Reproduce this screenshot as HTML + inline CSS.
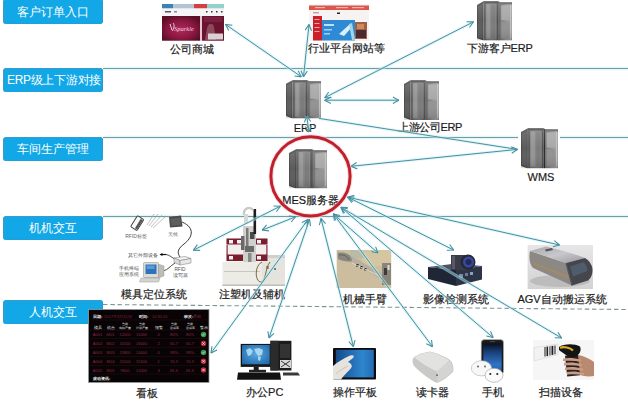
<!DOCTYPE html>
<html><head><meta charset="utf-8">
<style>
html,body{margin:0;padding:0;background:#fff;}
body{width:628px;height:404px;position:relative;overflow:hidden;font-family:"Liberation Sans",sans-serif;}
.box{position:absolute;left:3px;width:100px;height:24px;background:#12a7e6;border-radius:3.5px;box-shadow:inset 1.2px 1px 0 #3a9ccb, inset -1px -0.6px 0 #2a9ad0;color:#fff;font-size:12px;line-height:24px;text-align:center;white-space:nowrap;}
.lb{position:absolute;width:120px;text-align:center;font-size:11px;line-height:12px;color:#1a1a1a;white-space:nowrap;-webkit-text-stroke:0.2px #222;}
svg{position:absolute;left:0;top:0;}
.ic{position:absolute;}
</style></head><body>

<div class="box" style="top:-1px;height:25px;line-height:26px;">客户订单入口</div>
<div class="box" style="top:68px;letter-spacing:-0.3px;text-indent:2px;">ERP级上下游对接</div>
<div class="box" style="top:137px;">车间生产管理</div>
<div class="box" style="top:216px;">机机交互</div>
<div class="box" style="top:300px;">人机交互</div>

<!-- background lines -->
<svg width="628" height="404" style="z-index:1">
  <g stroke="#cfeef2" stroke-width="3.4" opacity="0.5">
   <line x1="103" y1="68.5" x2="628" y2="68.5"/><line x1="103" y1="137.5" x2="628" y2="137.5"/><line x1="103" y1="216.5" x2="628" y2="216.5"/>
  </g>
  <line x1="103" y1="68.5" x2="628" y2="68.5" stroke="#6e9ea4" stroke-width="1.2"/>
  <line x1="103" y1="137.5" x2="628" y2="137.5" stroke="#6e9ea4" stroke-width="1.2"/>
  <line x1="103" y1="216.5" x2="628" y2="216.5" stroke="#6e9ea4" stroke-width="1.2"/>
  <line x1="103" y1="304.5" x2="628" y2="309.5" stroke="#7e9496" stroke-width="1.1" stroke-dasharray="4.5 2.8"/>
</svg>

<svg width="628" height="404" style="z-index:2">
 <defs>
  <linearGradient id="sf" x1="0" x2="1" y1="0" y2="0">
   <stop offset="0" stop-color="#5a5a5a"/><stop offset="0.3" stop-color="#787878"/><stop offset="0.6" stop-color="#7e7e7e"/><stop offset="1" stop-color="#606060"/>
  </linearGradient>
  <linearGradient id="sr" x1="0" x2="1" y1="0" y2="0">
   <stop offset="0" stop-color="#707070"/><stop offset="0.5" stop-color="#949494"/><stop offset="0.9" stop-color="#a6a6a6"/><stop offset="1" stop-color="#888"/>
  </linearGradient>
  <linearGradient id="sv" x1="0" x2="0" y1="0" y2="1">
   <stop offset="0" stop-color="#fff" stop-opacity="0.15"/><stop offset="0.5" stop-color="#fff" stop-opacity="0"/><stop offset="1" stop-color="#000" stop-opacity="0.15"/>
  </linearGradient>
  <symbol id="srv" viewBox="0 0 35 40" preserveAspectRatio="none">
   <polygon points="0,4 6.5,0.3 6.5,40 0,37.5" fill="#4a4a4a"/>
   <polygon points="1,5.5 5.5,3 5.5,38.5 1,36.5" fill="#5c5c5c"/>
   <rect x="6.5" y="0.3" width="15" height="39.7" fill="url(#sf)"/>
   <rect x="6.5" y="0.3" width="15" height="2" fill="#4a4a4a"/>
   <rect x="8.5" y="3" width="11" height="35.5" fill="#858585"/>
   <rect x="9.5" y="3.5" width="3.5" height="34.5" fill="#959595"/>
   <rect x="14.5" y="3.5" width="4" height="34.5" fill="#7a7a7a"/>
   <rect x="7.5" y="2.5" width="1" height="36.5" fill="#5a5a5a"/>
   <rect x="19.8" y="2.5" width="1.2" height="36.5" fill="#505050"/>
   <rect x="21.5" y="0.8" width="1.2" height="39.2" fill="#2a2a2a"/>
   <rect x="22.7" y="1.3" width="12.3" height="38.7" fill="url(#sr)"/>
   <rect x="22.7" y="1.3" width="12.3" height="2" fill="#606060"/>
   <rect x="24.2" y="4.5" width="8.5" height="15" fill="#a8a8a8"/>
   <rect x="24.2" y="21" width="8.5" height="17" fill="#929292"/>
   <rect x="33" y="4" width="1.4" height="34" fill="#c0c0c0"/>
   <rect x="0" y="0" width="35" height="40" fill="url(#sv)"/>
  </symbol>
 </defs>
 <rect x="518" y="126" width="42" height="44" fill="#fff"/>
 <use href="#srv" x="286" y="80" width="35" height="38.5"/>
 <use href="#srv" x="477" y="1" width="35" height="39.6"/>
 <use href="#srv" x="404" y="80" width="35" height="40"/>
 <use href="#srv" x="521" y="128" width="37" height="40.4"/>
 <use href="#srv" x="289" y="149" width="38" height="39.4"/>


 <!-- 模具定位系统 diagram -->
 <g>
  <g transform="rotate(32 137 223)">
   <rect x="133.5" y="216.5" width="7.5" height="13" rx="1" fill="#fafafa" stroke="#333" stroke-width="0.9"/>
   <rect x="138" y="217.5" width="2.5" height="11" fill="#555"/>
  </g>
  <g fill="none" stroke="#9a9a9a" stroke-width="0.6">
   <path d="M147,225 L154,214"/><path d="M149,226 L158,214"/><path d="M151,227 L162,215"/><path d="M153,228 L165,217"/>
  </g>
  <text x="136" y="238" font-size="5" fill="#666" text-anchor="middle">RFID标签</text>
  <polygon points="169,217 181,215.5 182.5,226.5 170,227.5" fill="#4a4a4a"/>
  <polygon points="170.5,218.5 180,217.5 181,225 171.5,225.8" fill="#5e5e5e"/>
  <text x="173" y="236" font-size="5" fill="#666" text-anchor="middle">天线</text>
  <path d="M182,222 C196,228 192,238 184,244 C176,250 178,254 180,257" fill="none" stroke="#222" stroke-width="0.9"/>
  <text x="143" y="257" font-size="5" fill="#444" text-anchor="middle">其它外部设备</text>
  <path d="M166,254.5 L160.5,254.5" stroke="#111" stroke-width="1.2"/>
  <path d="M159.5,254.5 L162.5,253 L162.5,256 Z" fill="#111"/>
  <path d="M166,254.5 C170,255 172,258 175,259" fill="none" stroke="#222" stroke-width="0.8"/>
  <polygon points="174,258 185,256.5 191,258.5 180,260.5" fill="#f3f3f3" stroke="#777" stroke-width="0.5"/>
  <polygon points="174,258 180,260.5 180,265 174,262.5" fill="#dadada" stroke="#777" stroke-width="0.5"/>
  <polygon points="180,260.5 191,258.5 191,263 180,265" fill="#e8e8e8" stroke="#777" stroke-width="0.5"/>
  <text x="180" y="271" font-size="4.8" fill="#555" text-anchor="middle">RFID</text>
  <text x="180" y="277" font-size="4.8" fill="#555" text-anchor="middle">读写器</text>
  <path d="M163,271 C168,270 170,266 175,263" fill="none" stroke="#222" stroke-width="0.8"/>
  <text x="129" y="270" font-size="4.8" fill="#555" text-anchor="middle">手机终端</text>
  <text x="129" y="276" font-size="4.8" fill="#555" text-anchor="middle">应用系统</text>
  <polygon points="158,264 164,266 164,276 158,278" fill="#bdbdb8" stroke="#888" stroke-width="0.4"/>
  <rect x="143.5" y="262.5" width="15" height="15" rx="1" fill="#dcdcd6" stroke="#888" stroke-width="0.5"/>
  <rect x="145.5" y="264.5" width="11" height="9.5" fill="#2f72bc"/>
  <rect x="146.5" y="265.5" width="8" height="3.5" fill="#5a9ad8"/>
  <polygon points="141,278 160,278 158.5,282 139.5,282" fill="#d4d4d0" stroke="#999" stroke-width="0.5"/>
 </g>

 <!-- 注塑机 -->
 <g>
  <rect x="222.5" y="262" width="40" height="24" fill="#ecebe6"/>
  <rect x="262" y="255" width="23" height="31" fill="#e4e3de"/>
  <rect x="262" y="255" width="23" height="3" fill="#d0cfca"/>
  <rect x="224" y="271" width="36" height="1" fill="#c8c6c0"/>
  <rect x="266" y="266" width="3" height="3" fill="#999"/><rect x="274" y="268" width="2" height="2" fill="#777"/>
  <rect x="222.5" y="284.5" width="62.5" height="1.5" fill="#bdbcb6"/>
  <rect x="226.5" y="238.5" width="41" height="23" fill="#f2eeee"/>
  <rect x="226.5" y="238.5" width="41" height="6" fill="#7b1d2c"/>
  <rect x="229" y="240" width="4" height="3.5" fill="#f4f0f0"/><rect x="237" y="240" width="4" height="3.5" fill="#f4f0f0"/><rect x="257" y="240" width="4" height="3.5" fill="#f4f0f0"/>
  <rect x="226.5" y="254.5" width="41" height="6.5" fill="#7b1d2c"/>
  <rect x="229" y="256" width="4" height="3.5" fill="#f4f0f0"/><rect x="257" y="256" width="4" height="3.5" fill="#f4f0f0"/>
  <rect x="226.5" y="245" width="1.2" height="10" fill="#8a2a3a"/><rect x="266.3" y="245" width="1.2" height="10" fill="#8a2a3a"/>
  <rect x="243" y="226" width="13" height="36" fill="#d0d0cc"/>
  <rect x="241" y="236" width="3.5" height="14" fill="#6a6a6a"/>
  <rect x="246" y="228" width="2.5" height="20" fill="#7a7a78"/>
  <rect x="250" y="232" width="4.5" height="7" fill="#4a4a4a"/>
  <rect x="245" y="246" width="9" height="6" fill="#6a6a68"/>
  <rect x="248" y="253" width="3.5" height="9" fill="#8a8a88"/>
  <rect x="253.5" y="209" width="2.6" height="25" fill="#1e1e1e"/>
  <path d="M244,215 C243,208 250,206 253,210" fill="none" stroke="#c9c9c6" stroke-width="2.4"/>
  <rect x="244" y="214" width="4" height="10" fill="#d8d8d4"/>
  <path d="M262,262 C254,266 255,282 261,282 C266,282 265,268 270,262" fill="none" stroke="#6b5a20" stroke-width="0.9"/>
 </g>

 <!-- 机械手臂 photo -->
 <g>
  <rect x="336.7" y="250" width="54.5" height="38" fill="#cbbd9e"/>
  <rect x="362" y="250" width="29" height="16" fill="#d5c6a2"/>
  <rect x="350" y="250" width="14" height="8" fill="#b9bba6"/>
  <path d="M337,257 C345,261 352,262 360,267 L391,285 L391,279 L362,262 C354,257 346,254 337,251 Z" fill="#b6b0a0"/>
  <path d="M338,253 C345,251 352,255 352,261 C347,262 342,261 338,259 Z" fill="#8a887e"/>
  <path d="M339,255 C344,254 348,257 349,260" stroke="#555" stroke-width="0.8" fill="none"/>
  <rect x="356" y="264" width="2.6" height="2.6" fill="#2a2a2a"/><rect x="360" y="266" width="2.6" height="2.6" fill="#2a2a2a"/><rect x="364" y="268" width="2.4" height="2.4" fill="#2a2a2a"/>
  <path d="M352,263 L390,281" stroke="#e6dece" stroke-width="0.9"/>
  <rect x="382" y="263" width="9" height="22" fill="#8a857a"/>
  <rect x="384" y="268" width="3" height="7" fill="#3a3a3a"/>
  <rect x="387.5" y="265" width="2" height="5" fill="#e0dcd0"/>
 </g>

 <!-- 影像检测系统 -->
 <g>
  <polygon points="428,267 456,263.5 482,266 456,270" fill="#4c5466"/>
  <polygon points="428,267 456,270 456,286 428,279" fill="#1f2636"/>
  <polygon points="456,270 482,266 482,279.5 456,286" fill="#2c3446"/>
  <rect x="459" y="274" width="4" height="4" fill="#7b8aa8"/><rect x="465" y="273" width="3" height="3" fill="#6a7a98"/><rect x="470" y="272" width="3" height="3" fill="#8aa0c0"/>
  <rect x="451" y="255" width="16" height="15" fill="#3a3d48"/>
  <rect x="452" y="256" width="3" height="13" fill="#555a66"/>
  <circle cx="468" cy="262" r="7.5" fill="#252838"/>
  <circle cx="468.5" cy="262" r="5.5" fill="#3a4a9a"/>
  <circle cx="468.5" cy="262" r="3" fill="#232a5a"/>
 </g>

 <!-- AGV photo -->
 <g>
  <defs>
   <linearGradient id="agvbg" x1="0" x2="0" y1="0" y2="1"><stop offset="0" stop-color="#e6e6e6"/><stop offset="1" stop-color="#d2d2d2"/></linearGradient>
   <linearGradient id="agvtop" x1="0" x2="1" y1="0" y2="1"><stop offset="0" stop-color="#a8a8ac"/><stop offset="0.5" stop-color="#c8c8cc"/><stop offset="1" stop-color="#9a9a9e"/></linearGradient>
  </defs>
  <rect x="527.6" y="245" width="65.4" height="44" fill="url(#agvbg)"/>
  <ellipse cx="560" cy="281" rx="30" ry="6" fill="#bcbcbc"/>
  <path d="M530,251 C528.5,258 530,265 533,268 L572,285.5 L566,263 Z" fill="#8c8884"/>
  <path d="M533,262 L569,276 L570,279 L534,265 Z" fill="#a08a68"/>
  <path d="M530,251 L546,246.5 C560,250 575,254 585,258 L566,263 Z" fill="url(#agvtop)"/>
  <path d="M566,263 L585,258 C590,261 592.5,266 592.5,270 C592.5,276 590,279 588,280.5 L572,285.5 Z" fill="#45464c"/>
  <path d="M570,266.5 L584,262 C586,265 587.5,268 587.5,271 L573,276.5 Z" fill="#4e5c6c"/>
  <path d="M566,263 L572,285.5" stroke="#55565c" stroke-width="1.2"/>
  <path d="M545,249.5 L552,248 L553,250 L546,251.5 Z" fill="#555"/>
 </g>

 <!-- 看板 -->
 <g>
  <rect x="88.5" y="309.5" width="120.5" height="73" fill="#080406" stroke="#9a9a9a" stroke-width="0.8"/>
  <g fill="#ececec" font-size="4.2" font-weight="bold" font-family="Liberation Sans, sans-serif">
   <text x="93" y="318">日期:</text><text x="139" y="318">时间:</text><text x="184" y="318">班次:</text>
   <text x="93" y="380">滚动资讯:</text>
  </g>
  <g fill="#e4e4e4" font-size="4" font-family="Liberation Sans, sans-serif" text-anchor="middle">
   <text x="97.5" y="328.5">模具</text><text x="110.5" y="328.5">机台</text><text x="158.5" y="328.5">报警</text><text x="203.5" y="328.5">警示</text>
  </g>
  <g fill="#e4e4e4" font-size="3.3" font-family="Liberation Sans, sans-serif" text-anchor="middle">
   <text x="125" y="325">当前</text><text x="125" y="329">实际产量</text>
   <text x="141.5" y="325">当前</text><text x="141.5" y="329">计划产量</text>
   <text x="174" y="325">当前</text><text x="174" y="329">达成率</text>
   <text x="190" y="325">当前</text><text x="190" y="329">达成率</text>
  </g>
  <g fill="#8a2038" font-size="4" font-family="Liberation Sans, sans-serif">
   <text x="104" y="318">2017年3月15日</text><text x="152" y="318">10:30:15</text><text x="193" y="318">早班</text>
  </g>
  <g fill="#8e2440" font-size="4" font-family="Liberation Sans, sans-serif" text-anchor="middle">
   <text x="97.5" y="336">A001</text><text x="110.5" y="336">M01</text><text x="125" y="336">12000</text><text x="141.5" y="336">15000</text><text x="158.5" y="336">0</text><text x="174" y="336">80%</text><text x="190" y="336">80%</text>
   <text x="97.5" y="345">A002</text><text x="110.5" y="345">M02</text><text x="125" y="345">10500</text><text x="141.5" y="345">16000</text><text x="158.5" y="345">2</text><text x="174" y="345">65.7</text><text x="190" y="345">65.7</text>
   <text x="97.5" y="354">A003</text><text x="110.5" y="354">M03</text><text x="125" y="354">13800</text><text x="141.5" y="354">14000</text><text x="158.5" y="354">0</text><text x="174" y="354">98%</text><text x="190" y="354">98%</text>
   <text x="97.5" y="363">A004</text><text x="110.5" y="363">M04</text><text x="125" y="363">11000</text><text x="141.5" y="363">15500</text><text x="158.5" y="363">1</text><text x="174" y="363">70.9</text><text x="190" y="363">70.9</text>
   <text x="97.5" y="371.8">A005</text><text x="110.5" y="371.8">M05</text><text x="125" y="371.8">9800</text><text x="141.5" y="371.8">12000</text><text x="158.5" y="371.8">3</text><text x="174" y="371.8">81.6</text><text x="190" y="371.8">81.6</text>
   
  </g>
  <g stroke="#2a0a12" stroke-width="0.6">
   <line x1="90" y1="320" x2="208" y2="320"/><line x1="90" y1="330" x2="208" y2="330"/><line x1="90" y1="338.5" x2="208" y2="338.5"/><line x1="90" y1="347.5" x2="208" y2="347.5"/><line x1="90" y1="356.5" x2="208" y2="356.5"/><line x1="90" y1="365.5" x2="208" y2="365.5"/><line x1="90" y1="374" x2="208" y2="374"/>
  </g>
  <circle cx="203.5" cy="334.5" r="2.7" fill="#3a9a48"/>
  <circle cx="203.5" cy="343.5" r="2.7" fill="#c42a3c"/>
  <circle cx="203.5" cy="352.5" r="2.7" fill="#3a9a48"/>
  <circle cx="203.5" cy="361.3" r="2.7" fill="#c42a3c"/>
  <circle cx="203.5" cy="370" r="2.7" fill="#c42a3c"/>
  <g stroke="#f4f4f4" stroke-width="0.7" fill="none">
   <path d="M202,334.5 l1,1 l2,-2"/><path d="M202,352.5 l1,1 l2,-2"/>
   <path d="M202.3,342.3 l2.4,2.4 M204.7,342.3 l-2.4,2.4"/><path d="M202.3,360.1 l2.4,2.4 M204.7,360.1 l-2.4,2.4"/><path d="M202.3,368.8 l2.4,2.4 M204.7,368.8 l-2.4,2.4"/>
  </g>
 </g>

 <!-- 办公PC -->
 <g>
  <rect x="240.7" y="343.9" width="31" height="23" fill="#151515"/>
  <defs><radialGradient id="pcs" cx="0.5" cy="0.45" r="0.7"><stop offset="0" stop-color="#5aa8e0"/><stop offset="1" stop-color="#1e66a8"/></radialGradient></defs>
  <rect x="242" y="345" width="27.7" height="19.3" fill="url(#pcs)"/>
  <path d="M246,350 l4,-2 l3,3 l-2,4 l-3,1 Z M254,349 l5,-1 l4,2 l-1,5 l-4,1 l-2,-3 Z M258,356 l3,1 l-1,4 l-2,-1 Z" fill="#b4e2f4" opacity="0.85"/>
  <rect x="253.7" y="366.8" width="5" height="3.5" fill="#1a1a1a"/>
  <rect x="249" y="369.8" width="17" height="2.5" fill="#222"/>
  <rect x="270.4" y="340.8" width="21" height="29.7" fill="#1b1b1b"/>
  <rect x="270.4" y="340.8" width="8" height="29.7" fill="#2b2b2b"/>
  <rect x="280" y="344" width="10" height="14" fill="#333"/>
  <polygon points="280,360 291,360 291,368 280,368" fill="#d8d8d8"/>
  <path d="M281,361 l9,6 M290,361 l-9,6" stroke="#333" stroke-width="1"/>
  <polygon points="238,372.4 280,372.4 281,379.8 237,379.8" fill="#121212"/>
  <polygon points="283,372.4 298,372.4 300,375.5 283,375.5" fill="#3a3a3a"/>
 </g>

 <!-- 操作平板 -->
 <g>
  <defs>
   <linearGradient id="tabg" x1="0" x2="1" y1="0" y2="0"><stop offset="0" stop-color="#164a86"/><stop offset="0.45" stop-color="#2470b8"/><stop offset="0.7" stop-color="#2f86cc"/><stop offset="1" stop-color="#246cb4"/></linearGradient>
  </defs>
  <rect x="333" y="348" width="43" height="31.5" rx="1" fill="#0c0c10"/>
  <rect x="335.8" y="349.8" width="38" height="27.6" fill="url(#tabg)"/>
  <path d="M333,366 C337,362 343,359 349,356 C352,354.5 355.5,355.5 353,358 L348,362 C351,363 353,366 351,368 C349,371 345,374 341,379.5 L333,379.5 Z" fill="#e6e2de"/>
  <path d="M336,374 C340,370 344,368 348,366" stroke="#c4bcb4" stroke-width="0.8" fill="none"/>
 </g>

 <!-- 读卡器 -->
 <g>
  <path d="M414,357 C419,354 425,352 430,351.5 C437,353 446,357 450,360 C453,363 454,368 453,372 C448,377 442,381 437,383 C430,380 420,372 415,367 C412,364 412,359 414,357 Z" fill="#c9c9c7"/>
  <path d="M414.5,357.5 C419,354.5 425,352.5 430,352 C437,353.5 445,357.5 449,360.5 C445,365 441,369 437,371.5 C429,368 420,362 414.5,357.5 Z" fill="#e2e2e0"/>
  <path d="M437,371.5 L449,360.5 C452,363 453,367 452.5,371 C448,376 442,380 437.5,382 Z" fill="#d4d4d2"/>
  <rect x="436" y="374.5" width="2" height="1.2" fill="#555"/>
 </g>

 <!-- 手机 -->
 <g>
  <defs>
   <linearGradient id="phg" x1="0" x2="0" y1="0" y2="1"><stop offset="0" stop-color="#08101e"/><stop offset="0.3" stop-color="#1a3e78"/><stop offset="0.75" stop-color="#2f74c4"/><stop offset="1" stop-color="#2a60a8"/></linearGradient>
  </defs>
  <rect x="481.2" y="339.6" width="22.4" height="34.6" rx="3.2" fill="#1a1a1a" stroke="#c8c8cc" stroke-width="0.6"/>
  <rect x="483.3" y="343.5" width="18.4" height="28" fill="url(#phg)"/>
  <rect x="490" y="341.3" width="5" height="0.8" fill="#555"/>
  <ellipse cx="481.5" cy="368.3" rx="10.2" ry="7.6" fill="#f7f7f7" stroke="#b0b0b0" stroke-width="0.6"/>
  <ellipse cx="494" cy="375.3" rx="9" ry="7" fill="#fbfbfb" stroke="#9a9a9a" stroke-width="0.6"/>
  <circle cx="478" cy="366.5" r="1" fill="#666"/><circle cx="485" cy="366.5" r="1" fill="#666"/>
  <circle cx="490.3" cy="374" r="1.1" fill="#2a2a2a"/><circle cx="497.3" cy="374" r="1.1" fill="#2a2a2a"/>
 </g>

 <!-- 扫描设备 -->
 <g>
  <rect x="533" y="340" width="61" height="40" fill="#f6f6f6"/>
  <polygon points="534,347.5 558,344 558,354.5 534,361" fill="#f2f2f2" stroke="#cfcfcf" stroke-width="0.5"/>
  <g fill="#1e1e1e"><rect x="544.5" y="347" width="1" height="9.5"/><rect x="546.5" y="346.6" width="1.6" height="9.5"/><rect x="549.5" y="346.2" width="0.9" height="9.3"/><rect x="551.5" y="345.9" width="1.8" height="9"/><rect x="554.5" y="345.5" width="1" height="8.8"/></g>
  <path d="M578,355 C584,356 590,359 594,362 L594,376 C588,377 582,376 577,374 Z" fill="#b88a70"/>
  <rect x="566" y="355" width="13" height="21" fill="#2a2222" transform="rotate(-6 572 365)"/>
  <g fill="#c89c86">
   <path d="M563,358.5 C568,357.5 575,358 581,359.5 L581,362 C575,360.8 568,360.5 563,361.3 Z"/>
   <path d="M564,363 C569,362 576,362.5 582,364 L582,366.5 C576,365.3 569,365 564,365.8 Z"/>
   <path d="M565,367.5 C570,366.5 577,367 583,368.5 L583,371 C577,369.8 570,369.5 565,370.3 Z"/>
   <path d="M567,372 C572,371 578,371.5 584,373 L584,375.5 C578,374.3 572,374 567,374.8 Z"/>
  </g>
  <path d="M559,347 C563,344 574,343 580,346.5 C582,351 579,356 573,357.5 C567,357 562,352 559,350 Z" fill="#141414"/>
  <path d="M560,347.8 C564,346.5 570,347.5 573,350.5" stroke="#dcae28" stroke-width="2.2" fill="none"/>
 </g>

 <!-- 公司商城 screenshot -->
 <g>
  <defs>
   <radialGradient id="gsb" cx="0.5" cy="0.55" r="0.6"><stop offset="0" stop-color="#b0285a"/><stop offset="0.6" stop-color="#8a1840"/><stop offset="1" stop-color="#5a0e28"/></radialGradient>
  </defs>
  <rect x="162" y="4" width="62" height="37" fill="#f4eef2"/>
  <rect x="162" y="4" width="11" height="4.5" fill="#3a82b8"/>
  <rect x="173" y="4" width="21" height="4.5" fill="#b4c4d4"/>
  <rect x="194" y="4" width="13" height="4.5" fill="#d44040"/>
  <rect x="207" y="4" width="17" height="4.5" fill="#94d0cc"/>
  <rect x="162" y="8.5" width="62" height="7.5" fill="#f6f4f6"/>
  <rect x="165" y="11" width="6" height="1.5" fill="#556"/><rect x="174" y="11" width="3" height="1.5" fill="#889"/>
  <rect x="206" y="11" width="1.5" height="1.5" fill="#333"/><rect x="211" y="11" width="1.5" height="1.5" fill="#333"/><rect x="216" y="11" width="1.5" height="1.5" fill="#333"/><rect x="221" y="11" width="1.5" height="1.5" fill="#333"/>
  <rect x="162" y="16" width="38" height="24.7" fill="url(#gsb)"/>
  <path d="M170,24 l2,6 M173,23 c2,2 1,6 -1,8" stroke="#f0c8d8" stroke-width="1" fill="none"/>
  <text x="174" y="31" font-size="6.5" font-style="italic" fill="#f4d0e0" font-family="Liberation Serif, serif">Sparkle</text>
  <rect x="200" y="16" width="2" height="24.7" fill="#e6c6d0"/>
  <rect x="202" y="16" width="22" height="24.7" fill="#6a1430"/>
  <path d="M205,40 L207,28 C208,23 213,22 214,27 L216,40 Z" fill="#8c4a5a"/>
  <rect x="204" y="17" width="18" height="5" fill="#7a2040"/>
  <rect x="208" y="33.5" width="15" height="6" fill="#d8d2d4"/>
 </g>

 <!-- 行业平台 screenshot -->
 <g>
  <rect x="309" y="4" width="60" height="37" fill="#f7f3f2"/>
  <rect x="309" y="5.5" width="60" height="4.5" fill="#d9574c"/>
  <rect x="315" y="7" width="10" height="1.2" fill="#f2b0a8"/><rect x="336" y="7" width="12" height="1.2" fill="#f2b0a8"/><rect x="352" y="7" width="12" height="1.2" fill="#f2b0a8"/>
  <rect x="313" y="12" width="6" height="1.5" fill="#d99"/><rect x="337" y="12.5" width="3" height="1.5" fill="#222"/>
  <rect x="313" y="16" width="9" height="24.5" fill="#c9202c"/>
  <rect x="314.5" y="19" width="5" height="1" fill="#f3a0a0"/><rect x="314.5" y="23" width="5" height="1" fill="#f3a0a0"/><rect x="314.5" y="27" width="5" height="1" fill="#f3a0a0"/><rect x="314.5" y="31" width="5" height="1" fill="#f3a0a0"/>
  <rect x="322" y="20" width="33" height="20.5" fill="#2f8ad6"/>
  <rect x="324" y="24" width="10" height="2" fill="#bfe0f8"/><rect x="324" y="29" width="8" height="1.5" fill="#9fd0f0"/><rect x="324" y="33" width="6" height="1.5" fill="#9fd0f0"/>
  <path d="M339,34 L350,24 L352,27 L344,36 Z" fill="#d8f0f8"/>
  <path d="M349,24 L352,40 L355,40 L352,23 Z" fill="#9ed8e8"/>
  <rect x="355" y="22" width="12" height="17" fill="#a06048"/>
  <rect x="356" y="30" width="10" height="8" fill="#4a2a30"/>
  <rect x="357" y="24" width="7" height="5" fill="#d08a5a"/>
 </g>
</svg>


<!-- arrows -->
<svg width="628" height="404" style="z-index:3">
 <defs>
  <marker id="ah" viewBox="0 0 8 8" refX="7.5" refY="4" markerWidth="8" markerHeight="8" markerUnits="userSpaceOnUse" orient="auto-start-reverse">
   <path d="M1.5,0.8 L7.5,4 L1.5,7.2" fill="none" stroke="#4690a2" stroke-width="1.1"/>
  </marker>
 </defs>
 <g stroke="#c8eef4" stroke-width="3" fill="none" opacity="0.55">
  <line x1="225.6" y1="24.5" x2="301.3" y2="76.8"/>
  <line x1="309" y1="24.5" x2="303.5" y2="76.8"/>
  <line x1="324.8" y1="97.6" x2="473.4" y2="21.9"/>
  <line x1="324.8" y1="100.2" x2="398.9" y2="100.2"/>
  <line x1="306.7" y1="116" x2="309" y2="132"/>
  <line x1="351" y1="166.3" x2="517.4" y2="149.4"/>
  <line x1="280.3" y1="206.2" x2="193.4" y2="250.2"/>
  <line x1="295.6" y1="216.8" x2="262.2" y2="230.1"/>
  <line x1="308" y1="219.5" x2="211" y2="353"/>
  <line x1="309.5" y1="219.5" x2="269" y2="338"/>
  <line x1="321" y1="218.5" x2="353.4" y2="346.7"/>
  <line x1="333.4" y1="214" x2="378" y2="253"/>
  <line x1="333.4" y1="214" x2="432.5" y2="346.7"/>
  <line x1="341" y1="207.3" x2="493" y2="337.5"/>
  <line x1="341" y1="207.3" x2="561.5" y2="338"/>
  <line x1="347.8" y1="197.2" x2="453.6" y2="250"/>
  <line x1="347.8" y1="197.2" x2="559.5" y2="245"/>
  <line x1="319" y1="118.4" x2="517.4" y2="149.4"/>
 </g>
 <g stroke="#4690a2" stroke-width="1" fill="none" marker-start="url(#ah)" marker-end="url(#ah)">
  <line x1="225.6" y1="24.5" x2="301.3" y2="76.8"/>
  <line x1="309" y1="24.5" x2="303.5" y2="76.8"/>
  <line x1="324.8" y1="97.6" x2="473.4" y2="21.9"/>
  <line x1="324.8" y1="100.2" x2="398.9" y2="100.2"/>
  <line x1="306.7" y1="116" x2="309" y2="132"/>
  <line x1="351" y1="166.3" x2="517.4" y2="149.4"/>
  <line x1="280.3" y1="206.2" x2="193.4" y2="250.2"/>
  <line x1="295.6" y1="216.8" x2="262.2" y2="230.1"/>
  <line x1="308" y1="219.5" x2="211" y2="353"/>
  <line x1="309.5" y1="219.5" x2="269" y2="338"/>
  <line x1="321" y1="218.5" x2="353.4" y2="346.7"/>
  <line x1="333.4" y1="214" x2="378" y2="253"/>
  <line x1="333.4" y1="214" x2="432.5" y2="346.7"/>
  <line x1="341" y1="207.3" x2="493" y2="337.5"/>
  <line x1="341" y1="207.3" x2="561.5" y2="338"/>
  <line x1="347.8" y1="197.2" x2="453.6" y2="250"/>
  <line x1="347.8" y1="197.2" x2="559.5" y2="245"/>
 </g>
 <g stroke="#4690a2" stroke-width="1" fill="none">
  <line x1="319" y1="118.4" x2="517.4" y2="149.4"/>
 </g>
 <circle cx="310.5" cy="176.3" r="39.6" fill="none" stroke="#f4c8cc" stroke-width="5" opacity="0.6"/>
 <circle cx="310.5" cy="176.3" r="39.6" fill="none" stroke="#c0202c" stroke-width="3"/>
</svg>

<!-- labels -->
<div class="lb" style="left:131.5px;top:42.5px">公司商城</div>
<div class="lb" style="left:286.5px;top:41.5px">行业平台网站等</div>
<div class="lb" style="left:440px;top:41.5px;letter-spacing:-0.2px">下游客户ERP</div>
<div class="lb" style="left:245px;top:121.5px;-webkit-text-stroke:0.15px #111">ERP</div>
<div class="lb" style="left:370px;top:120.5px;letter-spacing:-0.4px">上游公司ERP</div>
<div class="lb" style="left:481px;top:170.5px;-webkit-text-stroke:0.15px #111">WMS</div>
<div class="lb" style="left:250.7px;top:193.5px;font-size:11px;-webkit-text-stroke:0.2px #111">MES服务器</div>
<div class="lb" style="left:94px;top:287.5px">模具定位系统</div>
<div class="lb" style="left:191.5px;top:287.5px">注塑机及辅机</div>
<div class="lb" style="left:304.5px;top:292.5px">机械手臂</div>
<div class="lb" style="left:396px;top:292.5px">影像检测系统</div>
<div class="lb" style="left:502px;top:292.5px">AGV自动搬运系统</div>
<div class="lb" style="left:87px;top:386.5px">看板</div>
<div class="lb" style="left:204.7px;top:385.5px">办公PC</div>
<div class="lb" style="left:294.5px;top:385.5px">操作平板</div>
<div class="lb" style="left:372px;top:385.5px">读卡器</div>
<div class="lb" style="left:433.3px;top:386px">手机</div>
<div class="lb" style="left:501px;top:386px">扫描设备</div>

</body></html>
